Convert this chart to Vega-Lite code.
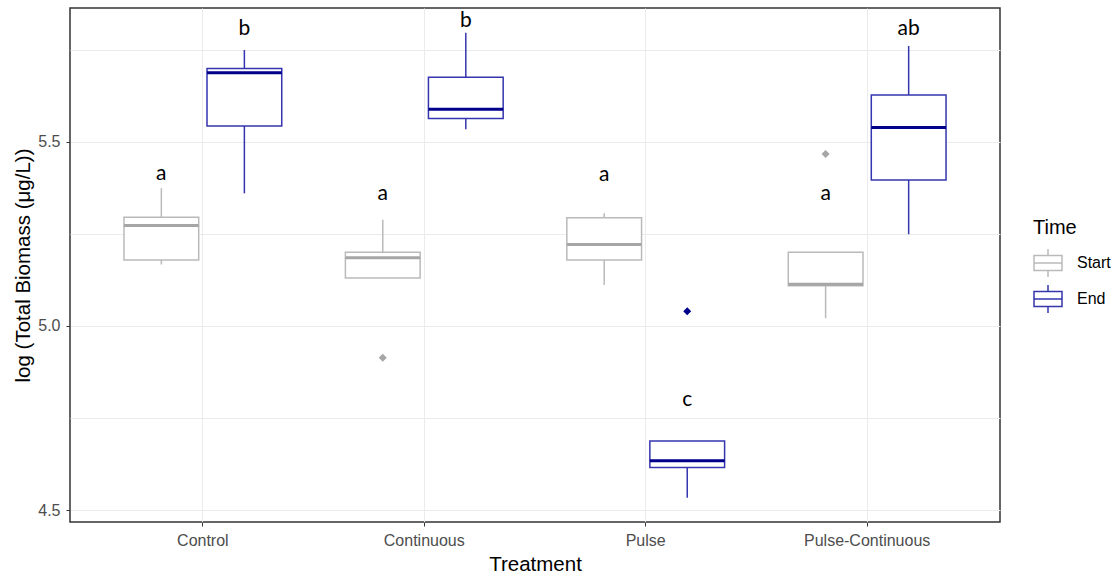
{
  "$schema": "https://vega.github.io/schema/vega-lite/v6.json",
  "width": 930,
  "height": 514,
  "autosize": {"type": "none"},
  "padding": {"left": 70, "top": 8, "right": 117, "bottom": 55},
  "background": "white",
  "config": {
    "view": {"stroke": "#333333", "strokeWidth": 1.5},
    "font": "Liberation Sans",
    "axis": {
      "domain": false,
      "gridColor": "#ebebeb",
      "gridWidth": 1,
      "tickColor": "#333333",
      "tickSize": 4,
      "labelColor": "#4d4d4d",
      "labelFontSize": 16,
      "labelFont": "Liberation Sans",
      "titleFont": "Liberation Sans",
      "titleFontSize": 20.5,
      "titleFontWeight": "normal",
      "titleColor": "#000000"
    }
  },
  "datasets": {
    "boxes": [
      {"Treatment": "Control", "Time": "Start", "lower": 5.167, "q1": 5.179, "median": 5.273, "q3": 5.295, "upper": 5.374},
      {"Treatment": "Control", "Time": "End", "lower": 5.360, "q1": 5.543, "median": 5.687, "q3": 5.699, "upper": 5.749},
      {"Treatment": "Continuous", "Time": "Start", "lower": 5.130, "q1": 5.130, "median": 5.185, "q3": 5.200, "upper": 5.288},
      {"Treatment": "Continuous", "Time": "End", "lower": 5.534, "q1": 5.563, "median": 5.588, "q3": 5.675, "upper": 5.796},
      {"Treatment": "Pulse", "Time": "Start", "lower": 5.111, "q1": 5.179, "median": 5.221, "q3": 5.294, "upper": 5.306},
      {"Treatment": "Pulse", "Time": "End", "lower": 4.534, "q1": 4.616, "median": 4.634, "q3": 4.688, "upper": 4.688},
      {"Treatment": "Pulse-Continuous", "Time": "Start", "lower": 5.021, "q1": 5.109, "median": 5.113, "q3": 5.200, "upper": 5.200},
      {"Treatment": "Pulse-Continuous", "Time": "End", "lower": 5.249, "q1": 5.396, "median": 5.539, "q3": 5.627, "upper": 5.760}
    ],
    "outliers": [
      {"Treatment": "Continuous", "Time": "Start", "value": 4.914},
      {"Treatment": "Pulse", "Time": "End", "value": 5.040},
      {"Treatment": "Pulse-Continuous", "Time": "Start", "value": 5.467}
    ],
    "letters": [
      {"Treatment": "Control", "Time": "Start", "pos": 5.396, "label": "a"},
      {"Treatment": "Control", "Time": "End", "pos": 5.789, "label": "b"},
      {"Treatment": "Continuous", "Time": "Start", "pos": 5.342, "label": "a"},
      {"Treatment": "Continuous", "Time": "End", "pos": 5.812, "label": "b"},
      {"Treatment": "Pulse", "Time": "Start", "pos": 5.394, "label": "a"},
      {"Treatment": "Pulse", "Time": "End", "pos": 4.783, "label": "c"},
      {"Treatment": "Pulse-Continuous", "Time": "Start", "pos": 5.342, "label": "a"},
      {"Treatment": "Pulse-Continuous", "Time": "End", "pos": 5.789, "label": "ab"}
    ]
  },
  "encoding": {
    "x": {
      "field": "Treatment",
      "type": "nominal",
      "sort": ["Control", "Continuous", "Pulse", "Pulse-Continuous"],
      "scale": {"paddingInner": 0, "paddingOuter": 0.1},
      "axis": {"title": "Treatment", "labelAngle": 0, "grid": true, "labelPadding": 6, "titlePadding": 6}
    },
    "xOffset": {
      "field": "Time",
      "type": "nominal",
      "sort": ["Start", "End"],
      "scale": {"paddingInner": 0.1, "paddingOuter": 0.3833}
    }
  },
  "resolve": {"scale": {"stroke": "independent"}, "legend": {"stroke": "independent"}},
  "layer": [
    {
      "data": {"name": "boxes"},
      "mark": {"type": "rule", "strokeWidth": 1.5},
      "encoding": {
        "y": {
          "field": "lower",
          "type": "quantitative",
          "scale": {"domain": [4.468, 5.863], "nice": false, "zero": false},
          "axis": {
            "title": "log (Total Biomass (μg/L))",
            "values": [4.5, 4.75, 5.0, 5.25, 5.5, 5.75],
            "labelExpr": "(datum.value * 4) % 2 == 0 ? format(datum.value, '.1f') : ''",
            "tickOpacity": {"condition": {"test": "(datum.value * 4) % 2 == 0", "value": 1}, "value": 0},
            "grid": true,
            "labelPadding": 6,
            "titlePadding": 4
          }
        },
        "y2": {"field": "upper"},
        "stroke": {
          "field": "Time",
          "type": "nominal",
          "title": "Time",
          "scale": {"domain": ["Start", "End"], "range": ["#bababa", "#3535b0"]},
          "legend": {
            "orient": "none",
            "legendX": 963,
            "legendY": 210,
            "titleFontSize": 20,
            "titleFontWeight": "normal",
            "titleColor": "#000000",
            "titleFont": "Liberation Sans",
            "titlePadding": 10,
            "labelFontSize": 16,
            "labelFont": "Liberation Sans",
            "labelColor": "#000000",
            "labelOffset": 14,
            "rowPadding": 2,
            "symbolType": "M-1,-0.54H1V0.54H-1Z M-1,0H1 M0,-0.54V-1 M0,0.54V1",
            "symbolSize": 784,
            "symbolStrokeWidth": 1.5,
            "symbolFillColor": "white",
            "encode": {
              "symbols": {
                "update": {
                  "size": {"value": 784},
                  "strokeWidth": {"value": 1.5},
                  "fill": {"value": "white"}
                }
              }
            }
          }
        }
      }
    },
    {
      "data": {"name": "boxes"},
      "mark": {"type": "bar", "fill": "white", "strokeWidth": 1.5},
      "encoding": {
        "y": {"field": "q1", "type": "quantitative"},
        "y2": {"field": "q3"},
        "stroke": {"field": "Time", "type": "nominal", "scale": {"domain": ["Start", "End"], "range": ["#bababa", "#3535b0"]}, "legend": null}
      }
    },
    {
      "data": {"name": "boxes"},
      "mark": {"type": "bar", "strokeWidth": 3, "fillOpacity": 0},
      "encoding": {
        "y": {"field": "median", "type": "quantitative"},
        "y2": {"field": "median"},
        "stroke": {"field": "Time", "type": "nominal", "scale": {"domain": ["Start", "End"], "range": ["#a6a6a6", "#00008b"]}, "legend": null}
      }
    },
    {
      "data": {"name": "outliers"},
      "mark": {"type": "point", "shape": "diamond", "filled": false, "size": 14, "strokeWidth": 3, "opacity": 1},
      "encoding": {
        "y": {"field": "value", "type": "quantitative"},
        "stroke": {"field": "Time", "type": "nominal", "scale": {"domain": ["Start", "End"], "range": ["#a6a6a6", "#00008b"]}, "legend": null}
      }
    },
    {
      "data": {"name": "letters"},
      "mark": {"type": "text", "font": "Lato", "fontSize": 21, "baseline": "alphabetic", "align": "center", "color": "#000000"},
      "encoding": {
        "y": {"field": "pos", "type": "quantitative"},
        "text": {"field": "label", "type": "nominal"}
      }
    }
  ]
}
